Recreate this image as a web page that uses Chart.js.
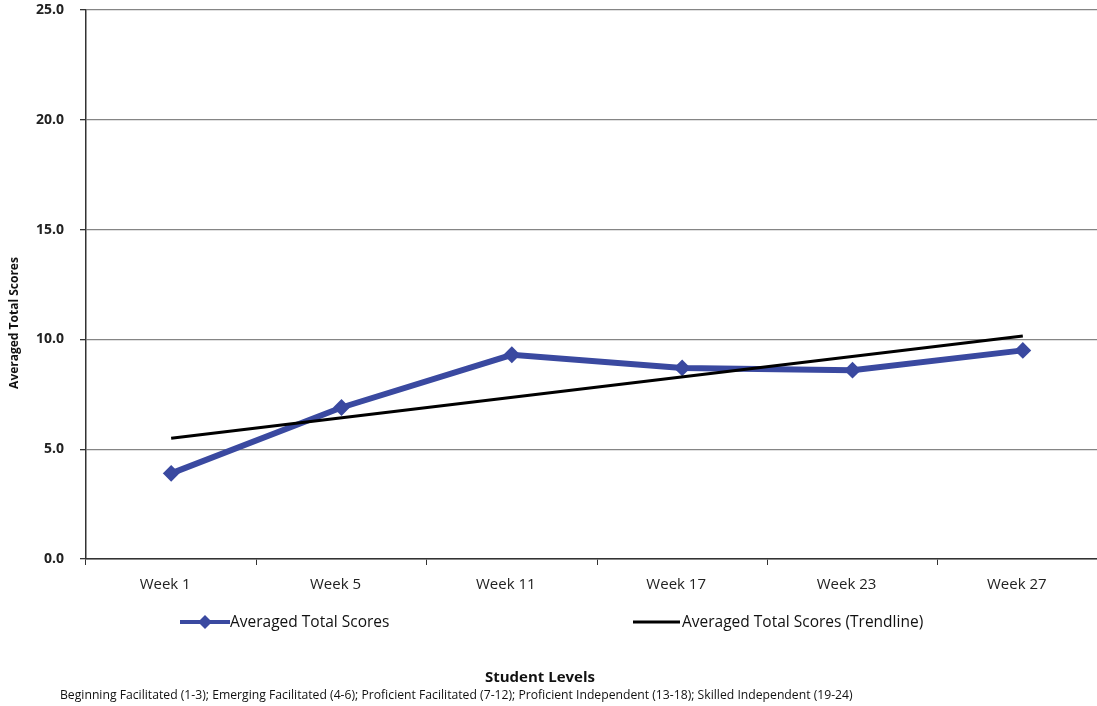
<!DOCTYPE html>
<html>
<head>
<meta charset="utf-8">
<script src="https://cdn.jsdelivr.net/npm/chart.js@4/dist/chart.umd.min.js"></script>
<style>
  html, body { margin: 0; padding: 0; background: #fff; overflow: hidden; }
  #wrap { width: 1097px; height: 706px; overflow: hidden; position: relative; }
  #box { width: 1117px; height: 706px; position: absolute; left: 0; top: 0; }
</style>
</head>
<body>
<div id="wrap"><div id="box"><canvas id="c" width="1117" height="706"></canvas></div></div>
<script>
// Weeks on the x axis
const categories = ['Week 1', 'Week 5', 'Week 11', 'Week 17', 'Week 23', 'Week 27'];
// Averaged total scores per week
const scores = [3.9, 6.9, 9.3, 8.7, 8.6, 9.5];
// Linear trendline: first and last values, joined straight across the gap
const trendline = [5.5, null, null, null, null, 10.15];
// Y axis ticks
const yTicks = [0, 5, 10, 15, 20, 25];

const seriesNames = ['Averaged Total Scores', 'Averaged Total Scores (Trendline)'];
const yTitle = 'Averaged Total Scores';
const xTitle = 'Student Levels';
const footnote = 'Beginning Facilitated (1-3); Emerging Facilitated (4-6); Proficient Facilitated (7-12); Proficient Independent (13-18); Skilled Independent (19-24)';

const FONT = '"Open Sans", "DejaVu Sans", sans-serif';
const BLUE = '#3a49a0';

// Legend, axis captions and the level key
const captionPlugin = {
  id: 'captions',
  afterDraw(chart) {
    const ctx = chart.ctx;
    const ds = chart.data.datasets;
    ctx.save();
    ctx.textBaseline = 'middle';
    ctx.textAlign = 'left';
    ctx.font = '15.5px ' + FONT;
    const ly = 622;
    // first entry: blue line with a diamond
    ctx.strokeStyle = ds[0].borderColor;
    ctx.lineWidth = 4;
    ctx.beginPath(); ctx.moveTo(180, ly); ctx.lineTo(230, ly); ctx.stroke();
    ctx.fillStyle = ds[0].borderColor;
    ctx.beginPath();
    ctx.moveTo(205, ly - 7); ctx.lineTo(212, ly); ctx.lineTo(205, ly + 7); ctx.lineTo(198, ly);
    ctx.closePath(); ctx.fill();
    ctx.fillStyle = '#111';
    ctx.fillText(ds[0].label, 230, ly + 1);
    // second entry: black trendline
    ctx.strokeStyle = ds[1].borderColor;
    ctx.lineWidth = 3;
    ctx.beginPath(); ctx.moveTo(633, ly); ctx.lineTo(680, ly); ctx.stroke();
    ctx.fillText(ds[1].label, 682, ly + 1);
    // x axis caption and level key
    ctx.textAlign = 'center';
    ctx.font = 'bold 15px ' + FONT;
    ctx.fillText(xTitle, 540, 678);
    ctx.textAlign = 'left';
    ctx.font = '12.2px ' + FONT;
    ctx.fillText(footnote, 60, 696);
    // y axis caption
    ctx.translate(15, 323);
    ctx.rotate(-Math.PI / 2);
    ctx.textAlign = 'center';
    ctx.font = 'bold 12px ' + FONT;
    ctx.fillText(yTitle, 0, 0);
    ctx.restore();
  }
};

new Chart(document.getElementById('c'), {
  type: 'line',
  data: {
    labels: categories,
    datasets: [
      {
        label: seriesNames[0],
        data: scores,
        borderColor: BLUE,
        backgroundColor: BLUE,
        borderWidth: 6,
        pointStyle: 'rectRot',
        pointRadius: 7,
        pointBorderWidth: 2,
        pointBackgroundColor: BLUE,
        pointBorderColor: BLUE,
        tension: 0,
        order: 1
      },
      {
        label: seriesNames[1],
        data: trendline,
        borderColor: '#000',
        borderWidth: 3,
        pointRadius: 0,
        spanGaps: true,
        tension: 0,
        order: 0
      }
    ]
  },
  options: {
    responsive: false,
    animation: false,
    layout: { padding: { top: 10, right: 3, bottom: 107, left: 0 } },
    plugins: {
      legend: { display: false },
      tooltip: { enabled: false }
    },
    scales: {
      x: {
        offset: true,
        grid: { offset: true, drawOnChartArea: false, drawTicks: true, tickLength: 6, color: '#333' },
        border: { color: '#333', width: 1.5 },
        ticks: { color: '#222', font: { family: FONT, size: 15 }, padding: 11, labelOffset: -6, maxRotation: 0 },
        afterFit(s) { s.height = 40; s.paddingLeft = 0; s.paddingRight = 0; }
      },
      y: {
        min: yTicks[0],
        max: yTicks[yTicks.length - 1],
        afterBuildTicks(s) { s.ticks = yTicks.map(v => ({ value: v })); },
        grid: { color: '#858585', lineWidth: 1.3, tickLength: 6, tickColor: '#333' },
        border: { color: '#333', width: 1.5 },
        ticks: {
          color: '#222',
          font: { family: FONT, size: 14, weight: 'bold' },
          padding: 16,
          callback: v => Number(v).toFixed(1)
        },
        afterFit(s) { s.width = 86; s.paddingTop = 0; s.paddingBottom = 0; }
      }
    }
  },
  plugins: [captionPlugin]
});
</script>
</body>
</html>
